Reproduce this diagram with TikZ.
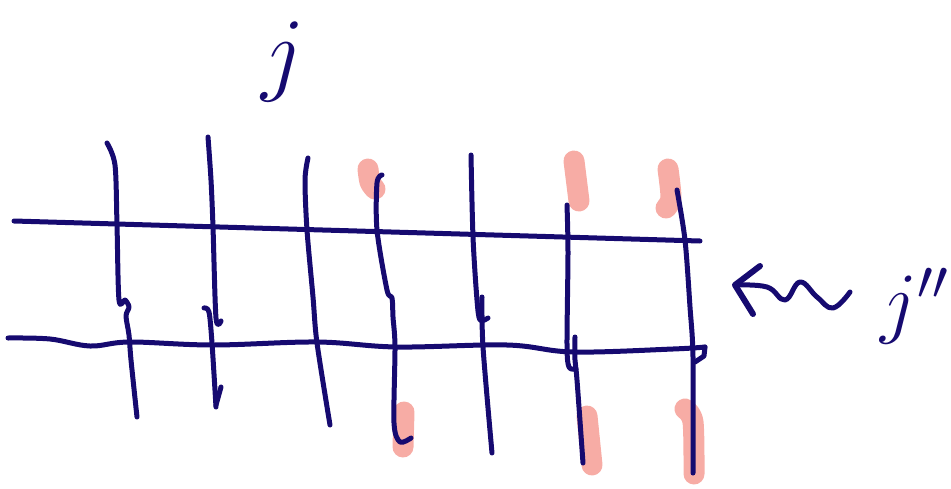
\RequirePackage{fix-cm}
\documentclass[tikz,border=0pt]{standalone}
\usetikzlibrary{positioning}
\definecolor{ink}{RGB}{22,10,112}
\definecolor{marker}{RGB}{247,172,165}
\begin{document}
\begin{tikzpicture}[
        x=1pt, y=-1pt,
        inkline/.style={draw=ink, line width=5pt, line cap=round, line join=round},
        highlight/.style={draw=marker, line width=21pt, line cap=round, line join=round},
        jlabel/.style={text=ink, inner sep=0pt, font=\fontsize{94}{94}\selectfont}
    ]
    \useasboundingbox (0,0) rectangle (951,488);
    % pink marks
    \draw[highlight] plot[smooth] coordinates {(368,169) (370,182) (375,189)};
    \draw[highlight] (404,412) -- (403,447);
    \draw[highlight] (574,161) -- (579,201);
    \draw[highlight] (587,416) -- (592,465);
    \draw[highlight] plot[smooth] coordinates {(668,169) (671,198) (666,208)};
    \draw[highlight] plot[smooth] coordinates {(685,409) (693,422) (694,474)};
    % horizontal lines
    \draw[inkline] (14,221) -- (700,241);
    \draw[inkline] plot[smooth, tension=0.6] coordinates {(8,338) (50,339) (90,346) (130,342) (213,345) (317,342) (397,347) (507,345) (573,352) (673,349) (705,347)};
    \draw[inkline] (705,347) -- (704,356) -- (695,362);
    % vertical lines
    \draw[inkline] plot[smooth, tension=0.5] coordinates {(107,143) (115,165) (117,225) (119,300) (125,300) (129,307) (126,316) (129,335) (131,360) (137,417)};
    \draw[inkline] plot[smooth, tension=0.5] coordinates {(208,137) (211,180) (213,227) (216,318) (221,321)};
    \draw[inkline] plot[smooth, tension=0.5] coordinates {(204,308) (209,312) (212,343) (216,407)};
    \draw[inkline] (216,405) -- (221,387);
    \draw[inkline] plot[smooth, tension=0.5] coordinates {(308,158) (305,180) (307,230) (313,297) (317,343) (330,425)};
    \draw[inkline] plot[smooth, tension=0.5] coordinates {(382,175) (377,183) (377,230) (387,290) (392,298) (393,317) (395,347) (394,423) (400,442) (411,438)};
    \draw[inkline] plot[smooth, tension=0.5] coordinates {(471,155) (473,237) (477,300) (480,320) (488,318)};
    \draw[inkline] plot[smooth, tension=0.5] coordinates {(482,297) (483,347) (492,453)};
    \draw[inkline] plot[smooth, tension=0.5] coordinates {(567,205) (568,253) (567,345) (569,367) (576,369)};
    \draw[inkline] plot[smooth, tension=0.5] coordinates {(575,337) (575,360) (577,380) (583,463)};
    \draw[inkline] plot[smooth, tension=0.5] coordinates {(677,190) (685,240) (690,307) (693,357) (693,473)};
    % arrow with squiggle
    \draw[inkline, line width=6pt] (760,266) -- (735,285) -- (753,314);
    \draw[inkline] plot[smooth, tension=0.7] coordinates {(735,285) (767,287) (785,300) (800,282) (817,297) (833,308) (850,292)};
    % labels
    \node[jlabel] (jtop) at (283,62) {$j$};
    \node[jlabel, font=\fontsize{80}{80}\selectfont, anchor=east] (jright) at (949,306) {$j''$};
\end{tikzpicture}
\end{document}
